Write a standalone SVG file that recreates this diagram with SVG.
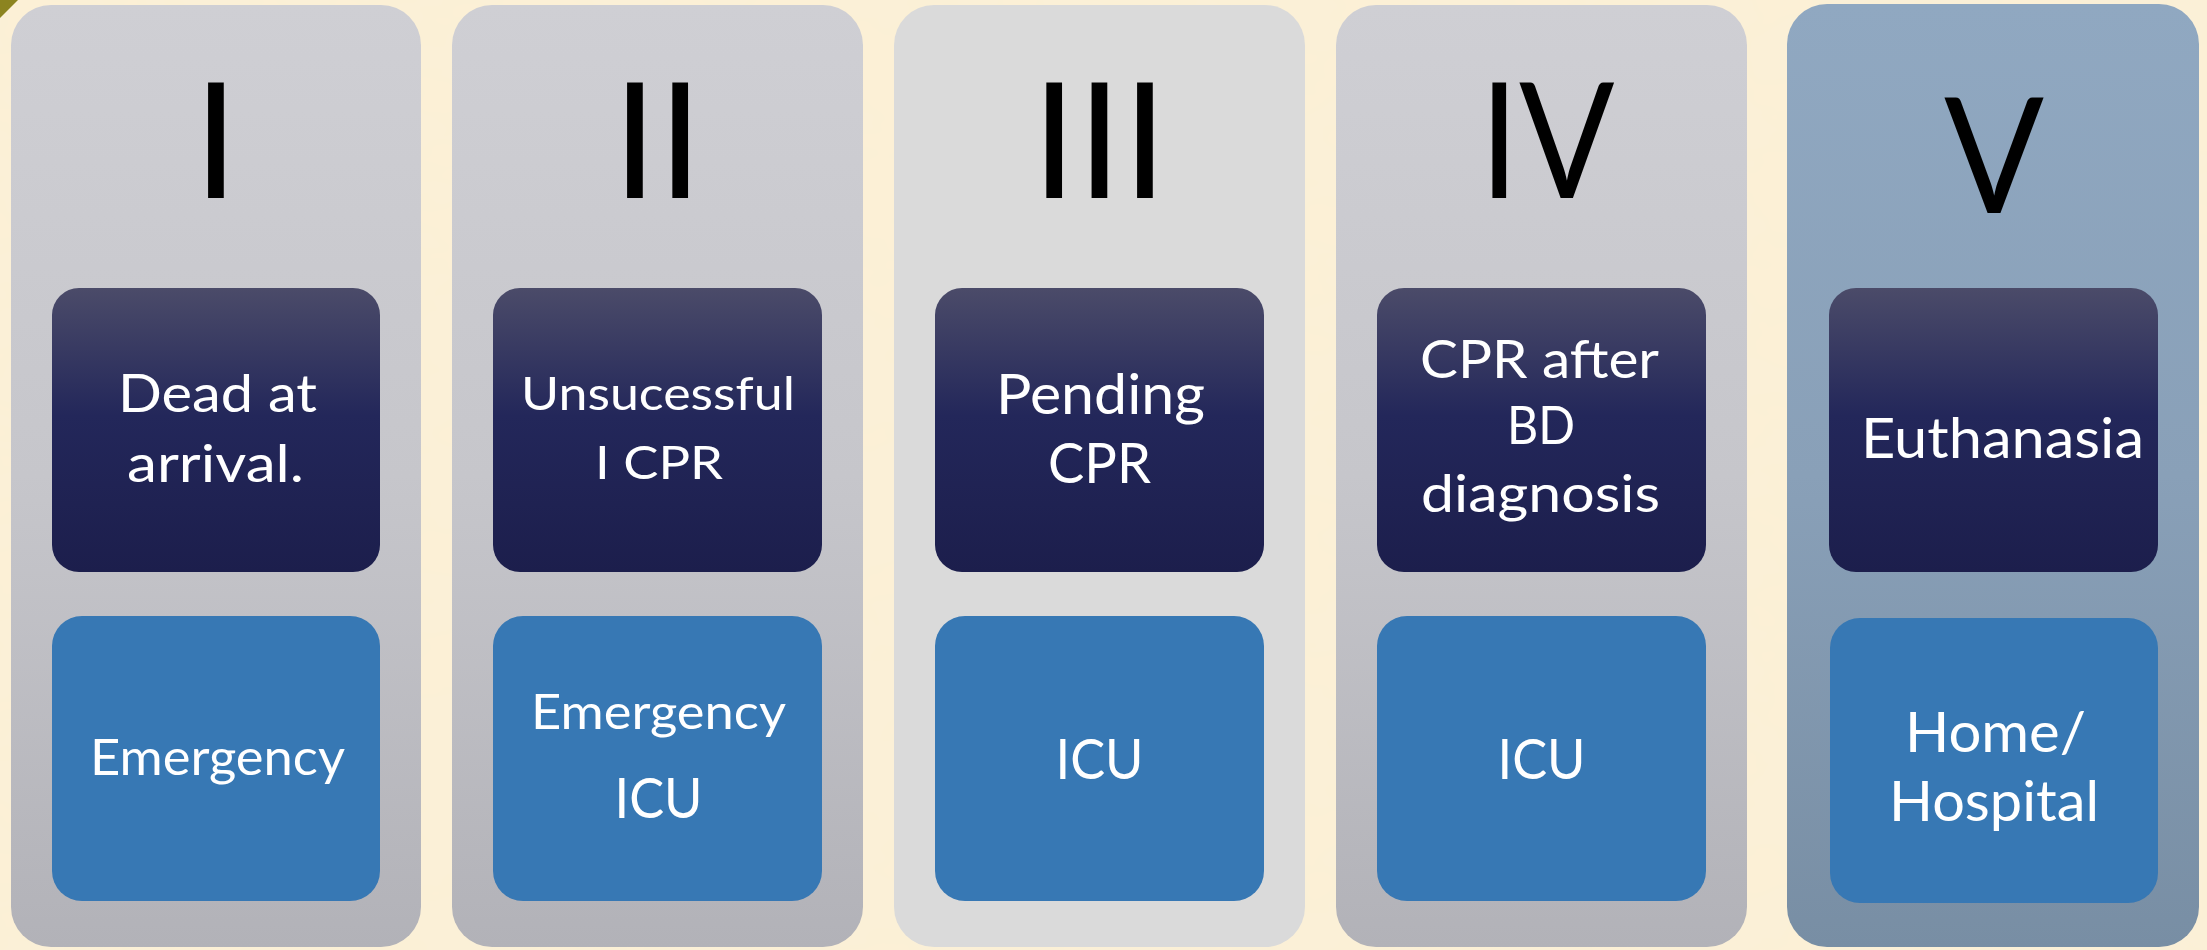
<svg xmlns="http://www.w3.org/2000/svg" width="2207" height="950" viewBox="0 0 2207 950">
  <defs>
    <linearGradient id="colGray" x1="0" y1="0" x2="0" y2="1">
      <stop offset="0" stop-color="#cfcfd4"/>
      <stop offset="0.5" stop-color="#c6c6cb"/>
      <stop offset="1" stop-color="#b2b2b8"/>
    </linearGradient>
    <linearGradient id="colBlue" x1="0" y1="0" x2="0" y2="1">
      <stop offset="0" stop-color="#90a8c1"/>
      <stop offset="0.5" stop-color="#89a0b8"/>
      <stop offset="1" stop-color="#788ea4"/>
    </linearGradient>
    <linearGradient id="darkBox" x1="0" y1="0" x2="0" y2="1">
      <stop offset="0" stop-color="#4b4b69"/>
      <stop offset="0.45" stop-color="#23275a"/>
      <stop offset="1" stop-color="#1c1e4c"/>
    </linearGradient>
    <filter id="paper" x="0" y="0" width="100%" height="100%">
      <feTurbulence type="fractalNoise" baseFrequency="0.012 0.02" numOctaves="3" seed="4" result="n"/>
      <feColorMatrix in="n" type="matrix" values="0 0 0 0 0.93  0 0 0 0 0.86  0 0 0 0 0.70  0 0 0 0.35 -0.05"/>
    </filter>
  </defs>
  <style>
    .col { stroke: none; }
    .gray { fill: url(#colGray); }
    .light { fill: #dadada; }
    .blue { fill: url(#colBlue); }
    .dark { fill: url(#darkBox); }
    .place { fill: #3778b4; }
    .num { font-family: Lato, "Liberation Sans", sans-serif; font-size: 162px; fill: #000; text-anchor: middle; }
    .lbl { font-family: Lato, "Liberation Sans", sans-serif; fill: #ffffff; text-anchor: middle; }
  </style>

  <!-- paper background -->
  <rect x="0" y="0" width="2207" height="950" fill="#fcf0d6"/>
  <rect x="0" y="0" width="2207" height="950" filter="url(#paper)"/>
  <polygon points="0,0 18,0 0,18" fill="#8c8420"/>

  <g id="stage-1">
    <rect class="col gray" x="11" y="5" width="410" height="942" rx="40"/>
    <text class="num" x="216" y="198">I</text>
    <rect class="dark" x="52" y="288" width="328" height="284" rx="27"/>
    <text class="lbl" font-size="53" x="217.5" y="412" textLength="199" lengthAdjust="spacingAndGlyphs">Dead at</text>
    <text class="lbl" font-size="53" x="215.5" y="482" textLength="177" lengthAdjust="spacingAndGlyphs">arrival.</text>
    <rect class="place" x="52" y="616" width="328" height="285" rx="30"/>
    <text class="lbl" font-size="50" x="217.5" y="775" textLength="255" lengthAdjust="spacingAndGlyphs">Emergency</text>
  </g>

  <g id="stage-2">
    <rect class="col gray" x="452" y="5" width="411" height="942" rx="40"/>
    <text class="num" x="657.5" y="198">II</text>
    <rect class="dark" x="493" y="288" width="329" height="284" rx="27"/>
    <text class="lbl" font-size="46" x="658" y="410" textLength="274" lengthAdjust="spacingAndGlyphs">Unsucessful</text>
    <text class="lbl" font-size="46" x="659" y="479" textLength="128" lengthAdjust="spacingAndGlyphs">I CPR</text>
    <rect class="place" x="493" y="616" width="329" height="285" rx="30"/>
    <text class="lbl" font-size="49" x="658.5" y="729" textLength="255" lengthAdjust="spacingAndGlyphs">Emergency</text>
    <text class="lbl" font-size="57" x="658.5" y="818" textLength="88" lengthAdjust="spacingAndGlyphs">ICU</text>
  </g>

  <g id="stage-3">
    <rect class="col light" x="894" y="5" width="411" height="942" rx="40"/>
    <text class="num" x="1099.5" y="198">III</text>
    <rect class="dark" x="935" y="288" width="329" height="284" rx="27"/>
    <text class="lbl" font-size="57" x="1100.5" y="414" textLength="209" lengthAdjust="spacingAndGlyphs">Pending</text>
    <text class="lbl" font-size="57" x="1099.5" y="483" textLength="103" lengthAdjust="spacingAndGlyphs">CPR</text>
    <rect class="place" x="935" y="616" width="329" height="285" rx="30"/>
    <text class="lbl" font-size="57" x="1099.5" y="779" textLength="88" lengthAdjust="spacingAndGlyphs">ICU</text>
  </g>

  <g id="stage-4">
    <rect class="col gray" x="1336" y="5" width="411" height="942" rx="40"/>
    <text class="num" x="1547" y="198" textLength="135" lengthAdjust="spacingAndGlyphs">IV</text>
    <rect class="dark" x="1377" y="288" width="329" height="284" rx="27"/>
    <text class="lbl" font-size="53" x="1539.5" y="378" textLength="239" lengthAdjust="spacingAndGlyphs">CPR after</text>
    <text class="lbl" font-size="53" x="1541" y="444" textLength="68" lengthAdjust="spacingAndGlyphs">BD</text>
    <text class="lbl" font-size="53" x="1540.5" y="512" textLength="239" lengthAdjust="spacingAndGlyphs">diagnosis</text>
    <rect class="place" x="1377" y="616" width="329" height="285" rx="30"/>
    <text class="lbl" font-size="57" x="1541.5" y="779" textLength="88" lengthAdjust="spacingAndGlyphs">ICU</text>
  </g>

  <g id="stage-5">
    <rect class="col blue" x="1787" y="4" width="412" height="943" rx="40"/>
    <text class="num" x="1994" y="213" textLength="100" lengthAdjust="spacingAndGlyphs">V</text>
    <rect class="dark" x="1829" y="288" width="329" height="284" rx="27"/>
    <text class="lbl" font-size="56" x="2002.5" y="458" textLength="283" lengthAdjust="spacingAndGlyphs">Euthanasia</text>
    <rect class="place" x="1830" y="618" width="328" height="285" rx="30"/>
    <text class="lbl" font-size="56" x="1995.5" y="752" textLength="181" lengthAdjust="spacingAndGlyphs">Home/</text>
    <text class="lbl" font-size="57" x="1994" y="821" textLength="210" lengthAdjust="spacingAndGlyphs">Hospital</text>
  </g>

  <g id="connectors"/>
</svg>
